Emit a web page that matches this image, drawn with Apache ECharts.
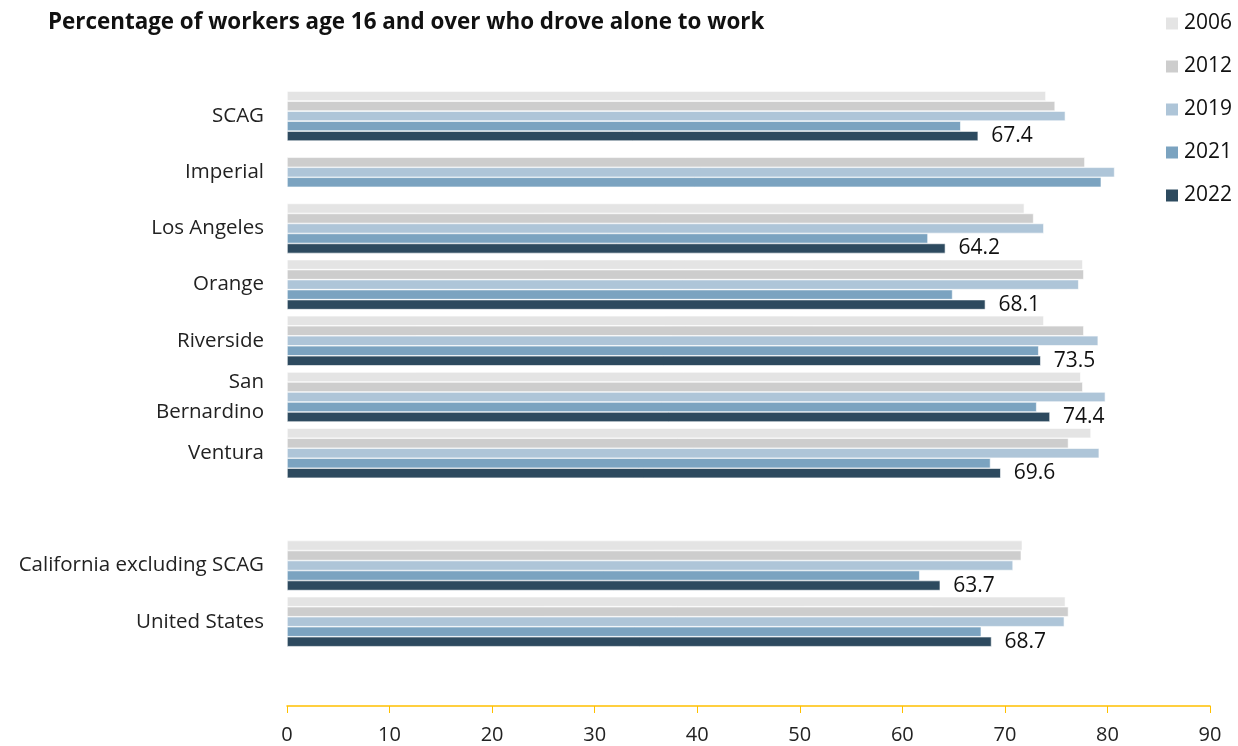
<!DOCTYPE html>
<html>
<head>
<meta charset="utf-8">
<script src="https://cdn.jsdelivr.net/npm/echarts@6/dist/echarts.min.js"></script>
<style>
  html, body { margin: 0; padding: 0; background: #fff; }
  #chart { width: 1238px; height: 746px; }
</style>
</head>
<body>
<div id="chart"></div>
<script>
// Regions, top to bottom; blank entries leave spacer rows.
const categories = ['SCAG', 'Imperial', 'Los Angeles', 'Orange', 'Riverside', 'San\nBernardino', 'Ventura', '', 'California excluding SCAG', 'United States', ' '];

const years = ['2006', '2012', '2019', '2021', '2022'];

const v2006 = [74.0, null, 71.9, 77.6, 73.8, 77.4, 78.4, null, 71.7, 75.9, null];
const v2012 = [74.9, 77.8, 72.8, 77.7, 77.7, 77.6, 76.2, null, 71.6, 76.2, null];
const v2019 = [75.9, 80.7, 73.8, 77.2, 79.1, 79.8, 79.2, null, 70.8, 75.8, null];
const v2021 = [65.7, 79.4, 62.5, 64.9, 73.3, 73.1, 68.6, null, 61.7, 67.7, null];
const v2022 = [67.4, null, 64.2, 68.1, 73.5, 74.4, 69.6, null, 63.7, 68.7, null];

const xTicks = { min: 0, max: 90, interval: 10 };

const colors = ['#E4E4E4', '#CDCDCD', '#AEC5D8', '#7BA3C0', '#2D4A5F'];
const seriesValues = [v2006, v2012, v2019, v2021, v2022];
const font = '"Open Sans", Lato, sans-serif';

const chart = echarts.init(document.getElementById('chart'), null, { renderer: 'canvas' });

const series = years.map((y, i) => ({
  name: y,
  type: 'bar',
  data: seriesValues[i],
  barGap: '0%',
  barCategoryGap: '11%',
  itemStyle: { color: colors[i], borderColor: '#ffffff', borderWidth: 0.6 },
  label: i === 4 ? {
    show: true,
    position: 'right',
    distance: 13,
    color: '#111',
    fontFamily: font,
    fontSize: 21,
    formatter: p => p.value == null ? '' : p.value.toFixed(1)
  } : { show: false },
  animation: false
}));

chart.setOption({
  animation: false,
  color: colors,
  title: {
    text: 'Percentage of workers age 16 and over who drove alone to work',
    left: 43,
    top: 7,
    textStyle: { fontFamily: font, fontWeight: 'bold', fontSize: 22.4, color: '#111' }
  },
  legend: {
    data: years,
    orient: 'vertical',
    left: 1159,
    top: 8,
    itemWidth: 14,
    itemHeight: 14,
    itemGap: 22,
    icon: 'rect',
    textStyle: { fontFamily: font, fontSize: 21, color: '#111', lineHeight: 20 }
  },
  grid: { left: 287, right: 28, top: 88, bottom: 40, containLabel: false },
  xAxis: {
    type: 'value',
    min: xTicks.min,
    max: xTicks.max,
    interval: xTicks.interval,
    axisLine: { show: true, lineStyle: { color: '#FFC000', width: 1.5 } },
    axisTick: { show: true, length: 7, lineStyle: { color: '#FFC000', width: 1 } },
    splitLine: { show: false },
    axisLabel: { fontFamily: font, fontSize: 20, color: '#222', margin: 19 }
  },
  yAxis: {
    type: 'category',
    data: categories,
    inverse: true,
    axisLine: { show: false },
    axisTick: { show: false },
    axisLabel: { fontFamily: font, fontSize: 20.5, color: '#222', margin: 23, lineHeight: 30, align: 'right' }
  },
  series: series
});
</script>
</body>
</html>
